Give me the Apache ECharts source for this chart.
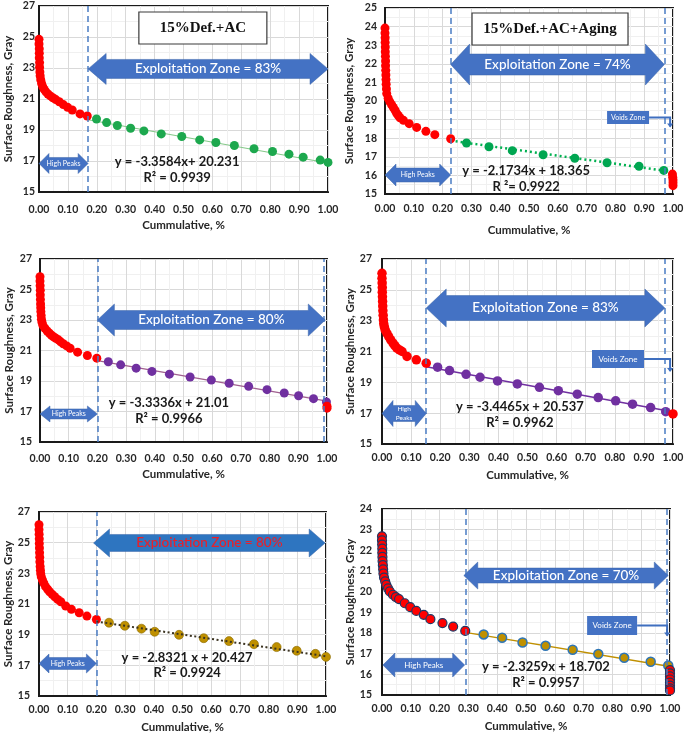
<!DOCTYPE html>
<html><head><meta charset="utf-8">
<script src="https://cdn.jsdelivr.net/npm/echarts@6/dist/echarts.min.js"></script>
<style>html,body{margin:0;padding:0;background:#fff}#c{width:685px;height:735px}</style>
</head><body><div id="c"></div>
<script>
// ---------- DATA ----------
const xTickLabels = ['0.00','0.10','0.20','0.30','0.40','0.50','0.60','0.70','0.80','0.90','1.00'];

// Panel 1: 15%Def.+AC
const p1HeadX = [0,0,0.001,0.001,0.001,0.002,0.002,0.003,0.004,0.006,0.009,0.013,0.018,0.024,0.031,0.039,0.048,0.058,0.070,0.084,0.099,0.115,0.142,0.167];
const p1HeadY = [24.85,24.55,24.25,23.95,23.65,23.35,23.05,22.75,22.5,22.25,22.0,21.8,21.62,21.46,21.32,21.2,21.08,20.96,20.82,20.64,20.46,20.29,20.04,19.9];
const p1BodyX = [0.199,0.234,0.271,0.317,0.363,0.423,0.494,0.556,0.612,0.676,0.744,0.808,0.865,0.914,0.973,1.0];
const p1BodyY = [19.71,19.48,19.29,19.11,18.94,18.75,18.58,18.36,18.19,18.0,17.79,17.61,17.44,17.25,17.06,16.91];
const p1TailX = [];
const p1TailY = [];
const p1TrendX = [0.17,1.0];
const p1TrendY = [19.66,16.87];
const p1Zones = [0.17];

// Panel 2: 15%Def.+AC+Aging
const p2HeadX = [0,0,0.0005,0.0005,0.001,0.001,0.0015,0.002,0.002,0.0025,0.003,0.0035,0.004,0.005,0.006,0.011,0.017,0.023,0.029,0.035,0.040,0.046,0.052,0.064,0.084,0.110,0.142,0.173,0.228];
const p2HeadY = [23.92,23.65,23.4,23.15,22.9,22.65,22.4,22.15,21.9,21.65,21.4,21.15,20.9,20.65,20.4,20.15,19.95,19.8,19.65,19.5,19.35,19.22,19.1,18.96,18.78,18.58,18.37,18.19,17.97];
const p2BodyX = [0.283,0.361,0.442,0.549,0.659,0.771,0.882,0.968];
const p2BodyY = [17.74,17.54,17.33,17.11,16.92,16.68,16.49,16.27];
const p2TailX = [0.998,0.999,1.0,1.0,1.0];
const p2TailY = [16.07,15.9,15.75,15.6,15.45];
const p2TrendX = [0.228,0.968];
const p2TrendY = [17.87,16.26];
const p2Zones = [0.228,0.97];

// Panel 3
const p3HeadX = [0,0,0.0005,0.001,0.001,0.0015,0.002,0.0025,0.003,0.004,0.005,0.007,0.010,0.017,0.025,0.033,0.040,0.047,0.055,0.064,0.072,0.081,0.093,0.105,0.131,0.165,0.198];
const p3HeadY = [25.84,25.55,25.25,24.95,24.65,24.35,24.05,23.8,23.55,23.3,23.05,22.85,22.65,22.46,22.28,22.13,22.0,21.9,21.8,21.7,21.57,21.44,21.3,21.15,20.89,20.67,20.5];
const p3BodyX = [0.238,0.281,0.335,0.390,0.451,0.523,0.597,0.659,0.727,0.791,0.851,0.901,0.953,0.998];
const p3BodyY = [20.26,20.06,19.84,19.63,19.45,19.26,19.06,18.85,18.65,18.43,18.21,18.03,17.84,17.62];
const p3TailX = [1.0,1.0];
const p3TailY = [17.35,17.22];
const p3TrendX = [0.2,1.0];
const p3TrendY = [20.34,17.68];
const p3Zones = [0.2,0.995];

// Panel 4
const p4HeadX = [0,0,0.0005,0.001,0.001,0.0015,0.002,0.0025,0.003,0.004,0.005,0.006,0.008,0.011,0.017,0.023,0.030,0.038,0.044,0.051,0.060,0.069,0.086,0.118,0.152];
const p4HeadY = [26.07,25.75,25.45,25.15,24.85,24.55,24.25,23.95,23.65,23.35,23.05,22.8,22.6,22.4,22.18,21.97,21.75,21.54,21.38,21.22,21.1,21.0,20.68,20.46,20.24];
const p4BodyX = [0.191,0.232,0.289,0.337,0.397,0.465,0.541,0.606,0.671,0.743,0.803,0.861,0.923,0.975];
const p4BodyY = [19.98,19.76,19.52,19.33,19.09,18.9,18.68,18.46,18.23,18.01,17.8,17.58,17.36,17.1];
const p4TailX = [1.0];
const p4TailY = [16.95];
const p4TrendX = [0.152,0.975];
const p4TrendY = [20.01,17.18];
const p4Zones = [0.152,0.972];

// Panel 5
const p5HeadX = [0,0,0.0005,0.001,0.001,0.0015,0.002,0.0025,0.003,0.004,0.005,0.006,0.008,0.012,0.017,0.023,0.030,0.037,0.046,0.055,0.065,0.076,0.093,0.113,0.140,0.167,0.2];
const p5HeadY = [26.17,25.85,25.55,25.25,24.95,24.65,24.35,24.05,23.75,23.45,23.2,22.98,22.78,22.57,22.35,22.13,21.96,21.8,21.63,21.47,21.3,21.15,20.87,20.65,20.43,20.21,19.99];
const p5BodyX = [0.244,0.299,0.357,0.403,0.488,0.574,0.662,0.749,0.828,0.898,0.963,1.0];
const p5BodyY = [19.78,19.58,19.39,19.19,18.99,18.77,18.58,18.38,18.19,17.95,17.75,17.55];
const p5TailX = [];
const p5TailY = [];
const p5TrendX = [0.2,1.0];
const p5TrendY = [19.86,17.59];
const p5Zones = [0.2];

// Panel 6
const p6HeadX = [0,0,0.0005,0.001,0.001,0.0015,0.002,0.003,0.004,0.005,0.007,0.011,0.015,0.021,0.027,0.038,0.048,0.059,0.079,0.098,0.119,0.145,0.168,0.21,0.247,0.289];
const p6HeadY = [22.68,22.48,22.28,22.08,21.88,21.68,21.48,21.28,21.08,20.88,20.68,20.5,20.33,20.16,20.01,19.85,19.74,19.64,19.44,19.25,19.07,18.88,18.67,18.48,18.31,18.1];
const p6BodyX = [0.353,0.417,0.488,0.568,0.662,0.751,0.841,0.933,0.994];
const p6BodyY = [17.93,17.77,17.54,17.38,17.19,16.98,16.8,16.61,16.43];
const p6TailX = [1.0,1.0,1.0,1.0,1.0,1.0,1.0,1.0];
const p6TailY = [16.2,16.05,15.9,15.75,15.6,15.45,15.32,15.22];
const p6TrendX = [0.289,0.994];
const p6TrendY = [18.03,16.39];
const p6Zones = [0.289,0.99];

// y axis ranges
const yMin = [15,15,15,15,15,15];
const yMax = [27,25,27,27,27,24];
const yStep = [2,1,2,2,2,1];

// texts
const titles = ['15%Def.+AC','15%Def.+AC+Aging',null,null,null,null];
const zoneTexts = ['Exploitation Zone = 83%','Exploitation Zone = 74%','Exploitation Zone = 80%','Exploitation Zone = 83%','Exploitation Zone = 80%','Exploitation Zone = 70%'];
const eqTexts = ['y = -3.3584x+ 20.231','y = -2.1734x + 18.365','y = -3.3336x + 21.01','y = -3.4465x + 20.537','y = -2.8321 x + 20.427','y = -2.3259x + 18.702'];
const r2Texts = ['R² = 0.9939','R ²= 0.9922','R² = 0.9966','R² = 0.9962','R² = 0.9924','R² = 0.9957'];
const peakTexts = ['High Peaks','High Peaks','High Peaks','High\nPeaks','High Peaks','High Peaks'];

// ---------- LAYOUT / STYLE ----------
const zip = (xs, ys) => xs.map((x, i) => [x, ys[i]]);
const panels = [
  [p1HeadX,p1HeadY,p1BodyX,p1BodyY,p1TailX,p1TailY,p1TrendX,p1TrendY,p1Zones],
  [p2HeadX,p2HeadY,p2BodyX,p2BodyY,p2TailX,p2TailY,p2TrendX,p2TrendY,p2Zones],
  [p3HeadX,p3HeadY,p3BodyX,p3BodyY,p3TailX,p3TailY,p3TrendX,p3TrendY,p3Zones],
  [p4HeadX,p4HeadY,p4BodyX,p4BodyY,p4TailX,p4TailY,p4TrendX,p4TrendY,p4Zones],
  [p5HeadX,p5HeadY,p5BodyX,p5BodyY,p5TailX,p5TailY,p5TrendX,p5TrendY,p5Zones],
  [p6HeadX,p6HeadY,p6BodyX,p6BodyY,p6TailX,p6TailY,p6TrendX,p6TrendY,p6Zones]
];
const grids = [
  {left:39, top:6, width:289, height:186},
  {left:385, top:8, width:288, height:186},
  {left:40, top:259, width:287, height:183},
  {left:382, top:259, width:291, height:185},
  {left:39, top:512, width:287, height:184},
  {left:382, top:509, width:288, height:186}
];
const xLabelMargin = [12,9,11,8,8,8];
const xNameGap = [27,30,26,25,25,25];
const yLabelMargin = [4,8,8,10,9,10];
const yNameGap = [25,30,25,25,24,23];
const styles = [
  {body:'#1da84e', bodyBorder:null, headBorder:null, trend:{color:'#86c98a', width:1.2, type:'solid'}, size:9, trendTop:false},
  {body:'#00a651', bodyBorder:null, headBorder:null, trend:{color:'#00b050', width:2.5, type:[2,3]}, size:9, trendTop:false},
  {body:'#7030a0', bodyBorder:null, headBorder:null, trend:{color:'#a0608f', width:1.3, type:'solid'}, size:9, trendTop:false},
  {body:'#7030a0', bodyBorder:null, headBorder:null, trend:{color:'#7030a0', width:1.5, type:'solid'}, size:9.5, trendTop:false},
  {body:'#bf9000', bodyBorder:'#8a6a00', headBorder:null, trend:{color:'#3b3320', width:2, type:[2,2.5]}, size:9, trendTop:true},
  {body:'#bf9000', bodyBorder:'#2e75b6', headBorder:'#203864', trend:{color:'#c09000', width:1.5, type:'solid'}, size:9, trendTop:false}
];
const FONT = 'Lato, "Open Sans", sans-serif';
const TXT = '#262626';

const grid = [], xAxis = [], yAxis = [], series = [];
panels.forEach((p, i) => {
  const [hx,hy,bx,by,tx,ty,trx,tr_y,zones] = p;
  const st = styles[i];
  grid.push(Object.assign({show:true, borderColor:'#1a1a1a', borderWidth:2, backgroundColor:'#fff', outerBoundsMode:'none', containLabel:false}, grids[i]));
  xAxis.push({
    type:'value', gridIndex:i, min:0, max:1, interval:0.1,
    name:'Cummulative, %', nameLocation:'middle', nameGap:xNameGap[i],
    nameTextStyle:{fontFamily:FONT, fontWeight:'bold', fontSize:11.5, color:TXT},
    axisLine:{show:true, onZero:false, lineStyle:{color:'#1a1a1a', width:2}},
    axisTick:{show:false},
    axisLabel:{fontFamily:FONT, fontWeight:'bold', fontSize:10.5, color:TXT, margin:xLabelMargin[i],
      showMinLabel:true, showMaxLabel:true, hideOverlap:false,
      formatter: v => xTickLabels[Math.round(v*10)]},
    splitLine:{show:true, lineStyle:{color:'#d9d9d9', width:1}},
    minorTick:{show:false, splitNumber:2},
    minorSplitLine:{show:true, lineStyle:{color:'#f0f0f0', width:1}}
  });
  yAxis.push({
    type:'value', gridIndex:i, min:yMin[i], max:yMax[i], interval:yStep[i],
    name:'Surface Roughness, Gray', nameLocation:'middle', nameGap:yNameGap[i],
    nameTextStyle:{fontFamily:FONT, fontWeight:'bold', fontSize:11.5, color:TXT},
    axisLine:{show:true, onZero:false, lineStyle:{color:'#1a1a1a', width:2}},
    axisTick:{show:false},
    axisLabel:{fontFamily:FONT, fontWeight:'bold', fontSize:10.5, color:TXT, margin:yLabelMargin[i], showMinLabel:true, showMaxLabel:true},
    splitLine:{show:true, lineStyle:{color:'#d9d9d9', width:1}},
    minorTick:{show:false, splitNumber:2},
    minorSplitLine:{show:true, lineStyle:{color:'#f0f0f0', width:1}}
  });
  series.push({
    type:'line', xAxisIndex:i, yAxisIndex:i, data:zip(trx, tr_y), symbol:'none', silent:true,
    z: st.trendTop ? 5 : 1,
    lineStyle:{color:st.trend.color, width:st.trend.width, type:st.trend.type},
    markLine:{silent:true, symbol:['none','none'], label:{show:false},
      lineStyle:{color:'#4a7cc4', width:1.5, type:[6,4]},
      data: zones.map(z => ({xAxis:z}))}
  });
  series.push({
    type:'scatter', xAxisIndex:i, yAxisIndex:i, data:zip(bx, by), symbol:'circle', symbolSize:st.size, clip:false, z:3,
    itemStyle:{color:st.body, borderColor:st.bodyBorder || st.body, borderWidth: st.bodyBorder ? (i===5?1.5:0.6) : 0, opacity:1}
  });
  const redStyle = {color:'#ff0000', borderColor:st.headBorder || '#ff0000', borderWidth: st.headBorder ? 1.2 : 0, opacity:1};
  series.push({
    type:'scatter', xAxisIndex:i, yAxisIndex:i, data:zip(hx, hy), symbol:'circle', symbolSize:st.size, clip:false, z:4,
    itemStyle:redStyle
  });
  if (tx.length) series.push({
    type:'scatter', xAxisIndex:i, yAxisIndex:i, data:zip(tx, ty), symbol:'circle', symbolSize:st.size, clip:false, z:4,
    itemStyle:redStyle
  });
});

const chart = echarts.init(document.getElementById('c'), null, {renderer:'canvas'});
chart.setOption({animation:false, backgroundColor:'#fff', grid, xAxis, yAxis, series});

// ---------- ANNOTATIONS (positioned in data coordinates) ----------
const ann = [
  {title:{x:0.567,y:25.58,w:128,h:32},
   expl:{x0:0.17,x1:1.0,y:22.94,hh:15.5,hs:9.5,hl:18,color:'#4472c4',tc:'#fff'},
   peaks:{x0:0,x1:0.17,y:16.84,hh:10,hs:6,hl:10,fs:7},
   eq:{x:0.478,y1:16.94,y2:15.9}},
  {title:{x:0.573,y:23.87,w:156,h:32},
   expl:{x0:0.228,x1:0.97,y:21.96,hh:20.5,hs:10.5,hl:19,color:'#4472c4',tc:'#fff'},
   peaks:{x0:0,x1:0.228,y:16.02,hh:11,hs:7,hl:11,fs:7},
   voids:{x:0.844,y:19.11,w:42,h:13,fs:7,ex:0.99,drop:9},
   eq:{x:0.49,y1:16.24,y2:15.38}},
  {expl:{x0:0.2,x1:0.994,y:23.0,hh:16,hs:9.5,hl:17,color:'#4472c4',tc:'#fff'},
   peaks:{x0:0,x1:0.2,y:16.84,hh:8,hs:5,hl:10,fs:7},
   eq:{x:0.449,y1:17.56,y2:16.51}},
  {expl:{x0:0.152,x1:0.972,y:23.82,hh:19,hs:12.5,hl:20,color:'#4472c4',tc:'#fff'},
   peaks:{x0:0,x1:0.152,y:16.98,hh:13,hs:8,hl:11,fs:6.5},
   voids:{x:0.811,y:20.51,w:52,h:18,fs:8,ex:0.99,drop:12},
   eq:{x:0.474,y1:17.4,y2:16.36}},
  {expl:{x0:0.19,x1:0.997,y:24.98,hh:14,hs:8.5,hl:16,color:'#2e75c0',tc:'#e8202a'},
   peaks:{x0:0,x1:0.2,y:17.12,hh:9.5,hs:6,hl:10,fs:7},
   eq:{x:0.516,y1:17.48,y2:16.5}},
  {expl:{x0:0.284,x1:0.994,y:20.78,hh:13.5,hs:7.5,hl:14,color:'#4472c4',tc:'#fff'},
   peaks:{x0:0.003,x1:0.287,y:16.45,hh:12,hs:6.7,hl:12,fs:8},
   voids:{x:0.799,y:18.36,w:50,h:19,fs:8,ex:0.99,drop:10},
   eq:{x:0.569,y1:16.35,y2:15.58}}
];

function arrowPts(x0,x1,cy,hh,hs,hl){
  return [[x0,cy],[x0+hl,cy-hh],[x0+hl,cy-hs],[x1-hl,cy-hs],[x1-hl,cy-hh],[x1,cy],[x1-hl,cy+hh],[x1-hl,cy+hs],[x0+hl,cy+hs],[x0+hl,cy+hh]];
}
const g = [];
ann.forEach((a, i) => {
  const px = (x, y) => chart.convertToPixel({gridIndex:i}, [x, y]);
  const e = a.expl;
  const [ex0, ey] = px(e.x0, e.y), [ex1] = px(e.x1, e.y);
  g.push({type:'polygon', z:10, shape:{points:arrowPts(ex0, ex1, ey, e.hh, e.hs, e.hl)}, style:{fill:e.color, stroke:'#3a64a8', lineWidth:0.5}});
  g.push({type:'text', z:11, style:{text:zoneTexts[i], x:(ex0+ex1)/2, y:ey, align:'center', verticalAlign:'middle', fill:e.tc, font:'500 13.5px ' + FONT}});
  const pk = a.peaks;
  const [px0, py] = px(pk.x0, pk.y), [px1] = px(pk.x1, pk.y);
  g.push({type:'polygon', z:10, shape:{points:arrowPts(px0, px1, py, pk.hh, pk.hs, pk.hl)}, style:{fill:'#4472c4', stroke:'#3a64a8', lineWidth:0.5}});
  g.push({type:'text', z:11, style:{text:peakTexts[i], x:(px0+px1)/2, y:py, align:'center', verticalAlign:'middle', fill:'#fff', font:'normal ' + pk.fs + 'px ' + FONT, lineHeight:pk.fs+2}});
  const [qx, qy1] = px(a.eq.x, a.eq.y1), [, qy2] = px(a.eq.x, a.eq.y2);
  g.push({type:'text', z:11, style:{text:eqTexts[i], x:qx, y:qy1, align:'center', verticalAlign:'middle', fill:'#1a1a1a', font:'bold 13px ' + FONT}});
  g.push({type:'text', z:11, style:{text:r2Texts[i], x:qx, y:qy2, align:'center', verticalAlign:'middle', fill:'#1a1a1a', font:'bold 13px ' + FONT}});
  if (a.title) {
    const [tx, ty] = px(a.title.x, a.title.y);
    g.push({type:'rect', z:10, shape:{x:tx - a.title.w/2, y:ty - a.title.h/2, width:a.title.w, height:a.title.h}, style:{fill:'#fff', stroke:'#3a3a3a', lineWidth:1.2}});
    g.push({type:'text', z:11, style:{text:titles[i], x:tx, y:ty, align:'center', verticalAlign:'middle', fill:'#111', font:'bold 15px "Liberation Serif", "DejaVu Serif", serif'}});
  }
  if (a.voids) {
    const v = a.voids;
    const [vx, vy] = px(v.x, v.y), [vex] = px(v.ex, v.y);
    g.push({type:'rect', z:10, shape:{x:vx - v.w/2, y:vy - v.h/2, width:v.w, height:v.h}, style:{fill:'#4472c4'}});
    g.push({type:'text', z:11, style:{text:'Voids Zone', x:vx, y:vy, align:'center', verticalAlign:'middle', fill:'#fff', font:'normal ' + v.fs + 'px ' + FONT}});
    g.push({type:'polyline', z:10, shape:{points:[[vx + v.w/2, vy],[vex, vy],[vex, vy + v.drop]]}, style:{stroke:'#3f6fbf', lineWidth:2, fill:null}});
    g.push({type:'polygon', z:10, shape:{points:[[vex-3, vy + v.drop - 3],[vex+3, vy + v.drop - 3],[vex, vy + v.drop + 1]]}, style:{fill:'#3f6fbf'}});
  }
});
chart.setOption({graphic: g});
</script>
</body></html>
